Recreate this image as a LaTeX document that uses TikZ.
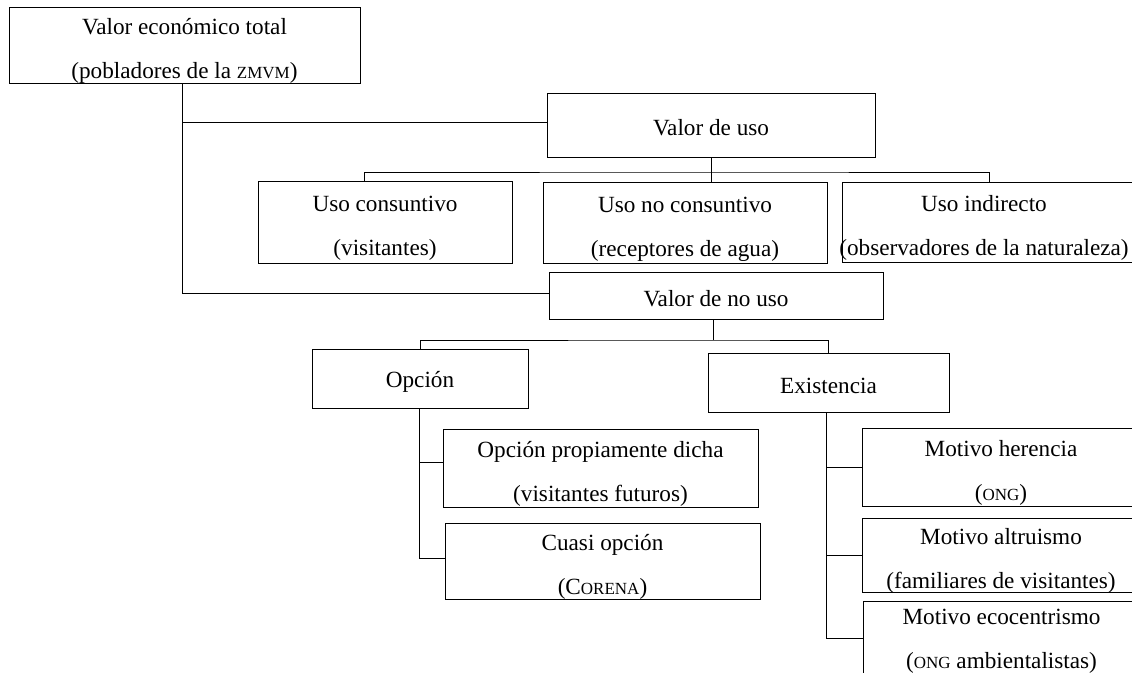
\documentclass[tikz,border=0pt]{standalone}
\usepackage{fontspec}
\setmainfont{Liberation Serif}
\newcommand{\fsc}[1]{{\fontsize{17}{17}\selectfont #1}}
\newcommand{\tallA}{\rule{0pt}{23.5pt}}
\newcommand{\tallB}{\rule{0pt}{22pt}}
\newcommand{\tallC}{\rule{0pt}{16.5pt}}
\newcommand{\nodepth}[1]{\raisebox{0pt}[\height][0pt]{#1}}
\begin{document}
\begin{tikzpicture}[x=1pt,y=-1pt,
  box/.style={draw, line width=1pt, inner sep=0pt, align=center,
    font=\fontsize{23.2}{44}\selectfont},
  lbl/.style={inner sep=0pt, align=center, font=\fontsize{23.2}{44}\selectfont},
  conn/.style={line width=1pt}]
\useasboundingbox (0,0) rectangle (1132,672);
\clip (0,0) rectangle (1132,672);

% top level
\node[box, minimum width=351pt, minimum height=76pt] (vet) at (184.5,45)
  {\tallA Valor económico total\\\nodepth{(pobladores de la \fsc{ZMVM})}};

% use value
\node[box, minimum width=328pt, minimum height=64pt] (vu) at (711,125) {\tallB Valor de uso};
\node[box, minimum width=254pt, minimum height=82pt] (uc) at (385,222)
  {\tallA Uso consuntivo\\\nodepth{(visitantes)}};
\node[box, minimum width=284pt, minimum height=81pt] (unc) at (685,222.5)
  {\tallA Uso no consuntivo\\\nodepth{(receptores de agua)}};
\node[box, minimum width=308pt, minimum height=80pt] (ui) at (996,222) {};
\node[lbl] (uiT) at (984,222) {\tallA Uso indirecto\\\nodepth{(observadores de la naturaleza)}};

% non-use value
\node[box, minimum width=334pt, minimum height=47pt] (vnu) at (716,295.5) {\tallB Valor de no uso};
\node[box, minimum width=216pt, minimum height=59pt] (op) at (420,378.5) {\tallB Opción};
\node[box, minimum width=241pt, minimum height=59pt] (ex) at (828.5,382.5) {\tallB Existencia};

\node[box, minimum width=315pt, minimum height=78pt] (opd) at (600.5,468)
  {\tallA Opción propiamente dicha\\\nodepth{(visitantes futuros)}};
\node[box, minimum width=315pt, minimum height=76pt] (co) at (602.5,561)
  {\tallA Cuasi opción\\\nodepth{(C\fsc{ORENA})}};

\node[box, minimum width=278pt, minimum height=78pt] (mh) at (1001,467)
  {\tallA Motivo herencia\\\nodepth{(\fsc{ONG})}};
\node[box, minimum width=278pt, minimum height=74pt] (ma) at (1001,555)
  {\tallA Motivo altruismo\\\nodepth{(familiares de visitantes)}};
\node[box, minimum width=277pt, minimum height=74pt] (me) at (1001.5,638)
  {\tallC Motivo ecocentrismo\\\nodepth{(\fsc{ONG} ambientalistas)}};

% connectors
\coordinate (b1) at (711,172);
\coordinate (b2) at (713,340);
\draw[conn] ([xshift=-2.5pt]vet.south) |- ([yshift=3pt]vu.west);
\draw[conn] ([xshift=-2.5pt]vet.south) |- ([yshift=2pt]vnu.west);
\draw[conn] (vu.south) -- (vu.south |- unc.north);
\draw[conn] ([xshift=-21pt]uc.north) |- (b1) -| ([xshift=-7pt]ui.north);
\draw[conn] ([xshift=-3pt]vnu.south) -- (b2);
\draw[conn] (op.north) |- (b2) -| (ex.north);
\draw[conn] ([xshift=-1pt]op.south) |- ([yshift=6pt]opd.west);
\draw[conn] ([xshift=-1pt]op.south) |- ([yshift=3pt]co.west);
\draw[conn] ([xshift=-2.5pt]ex.south) |- (mh.west);
\draw[conn] ([xshift=-2.5pt]ex.south) |- (ma.west);
\draw[conn] ([xshift=-2.5pt]ex.south) |- (me.west);
\end{tikzpicture}
\end{document}
